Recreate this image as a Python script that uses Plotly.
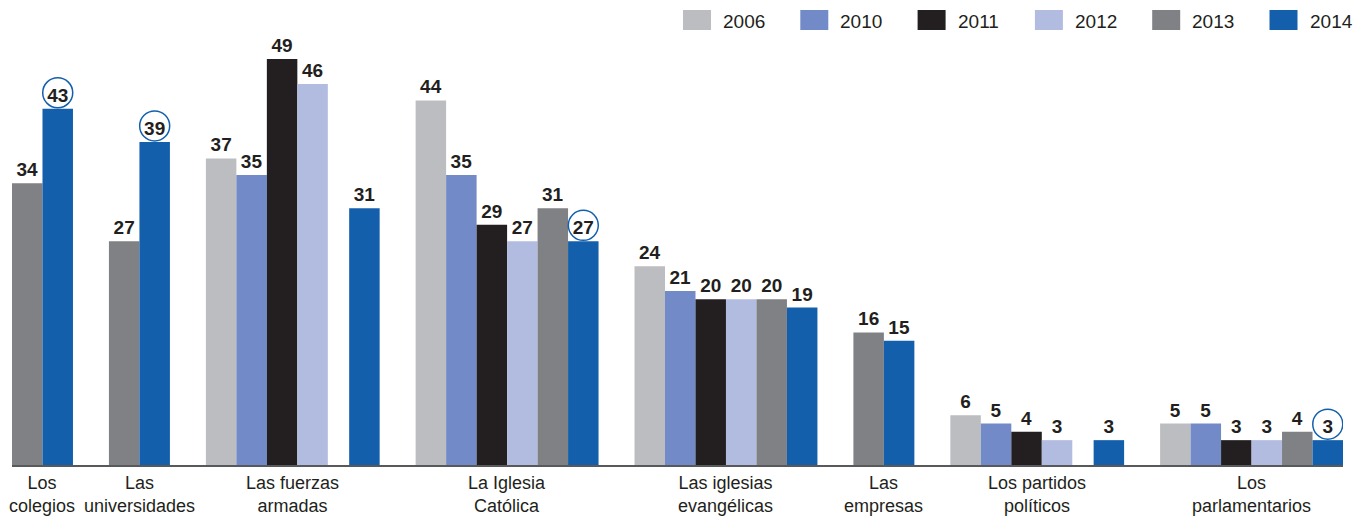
import plotly.graph_objects as go

# categories (bottom labels) and the survey years
categories = ["Los<br>colegios", "Las<br>universidades", "Las fuerzas<br>armadas",
              "La Iglesia<br>Católica", "Las iglesias<br>evangélicas", "Las<br>empresas",
              "Los partidos<br>políticos", "Los<br>parlamentarios"]
years = ["2006", "2010", "2011", "2012", "2013", "2014"]
colors = ["#bcbdc0", "#728ac7", "#231f20", "#b2bce0", "#808184", "#135fac"]

# values per year, one per category (None = not asked that year)
v2006 = [None, None, 37, 44, 24, None, 6, 5]
v2010 = [None, None, 35, 35, 21, None, 5, 5]
v2011 = [None, None, 49, 29, 20, None, 4, 3]
v2012 = [None, None, 46, 27, 20, None, 3, 3]
v2013 = [34, 27, None, 31, 20, 16, None, 4]
v2014 = [43, 39, 31, 27, 19, 15, 3, 3]
series = [v2006, v2010, v2011, v2012, v2013, v2014]

# 2014 values that are highlighted with a circle
circled = ["Los<br>colegios", "Las<br>universidades", "La Iglesia<br>Católica", "Los<br>parlamentarios"]

TEXT = "#231f20"
FONT = "Liberation Sans, Arial, sans-serif"
GAP_IN = 0.7    # space left by a missing year inside a group (in bar widths)
GAP_OUT = 1.18  # space between groups

# lay the bars out along a numeric axis, groups only as wide as the years they have
xpos = [[None] * len(categories) for _ in years]
centers = []
cursor = 0.0
for c in range(len(categories)):
    present = [j for j in range(len(years)) if series[j][c] is not None]
    pos = cursor
    for j in range(present[0], present[-1] + 1):
        if series[j][c] is not None:
            xpos[j][c] = pos + 0.5
            pos += 1
        else:
            pos += GAP_IN
    centers.append((cursor + pos) / 2)
    cursor = pos + GAP_OUT
total = cursor - GAP_OUT

fig = go.Figure()
for j, yr in enumerate(years):
    fig.add_trace(go.Bar(
        x=xpos[j], y=series[j], name=yr, width=1,
        marker=dict(color=colors[j], line=dict(width=0)),
        text=series[j], textposition="outside", constraintext="none",
        textfont=dict(family=FONT, size=19, color=TEXT, weight="bold"),
        cliponaxis=False, hoverinfo="skip",
    ))

# circles round the highlighted labels
for cat in circled:
    c = categories.index(cat)
    fig.add_shape(type="circle", xref="x", yref="y", xsizemode="pixel", ysizemode="pixel",
                  xanchor=xpos[5][c], yanchor=v2014[c], x0=-15, x1=15, y0=1, y1=31,
                  line=dict(color=colors[5], width=1.5))

W, H, L, T = 1354, 516, 12, 40
B = 51
pw, ph = W - L - 11, H - T - B

# category names under the groups
for c, cat in enumerate(categories):
    fig.add_annotation(x=centers[c], y=0, xref="x", yref="paper", text=cat,
                       showarrow=False, xanchor="center", yanchor="top", yshift=-6,
                       font=dict(family=FONT, size=18, color=TEXT))

# legend drawn as boxes + labels at top right
for j, yr in enumerate(years):
    x0 = 683 + 117.3 * j
    fig.add_shape(type="rect", xref="paper", yref="paper",
                  x0=(x0 - L) / pw, x1=(x0 + 28 - L) / pw,
                  y0=(H - B - 30) / ph, y1=(H - B - 10) / ph,
                  fillcolor=colors[j], line=dict(width=0))
    fig.add_annotation(x=(x0 + 38 - L) / pw, y=(H - B - 21) / ph, xref="paper", yref="paper",
                       text=yr, showarrow=False, xanchor="left", yanchor="middle",
                       font=dict(family=FONT, size=19, color=TEXT))

fig.update_layout(
    width=W, height=H, barmode="overlay", showlegend=False,
    margin=dict(l=L, r=11, t=T, b=B),
    plot_bgcolor="white", paper_bgcolor="white",
    font=dict(family=FONT, color=TEXT),
    xaxis=dict(range=[0, total], showticklabels=False, automargin=False,
               showgrid=False, zeroline=False, showline=True, linecolor="#58595b", linewidth=1.5,
               ticks=""),
    yaxis=dict(range=[0, 51.3], visible=False, automargin=False),
)

# page body has a default 8px margin; drop it so the figure fills the window
fig.write_html("out.html", config={"displayModeBar": False},
               post_script="document.body.style.margin='0';")
